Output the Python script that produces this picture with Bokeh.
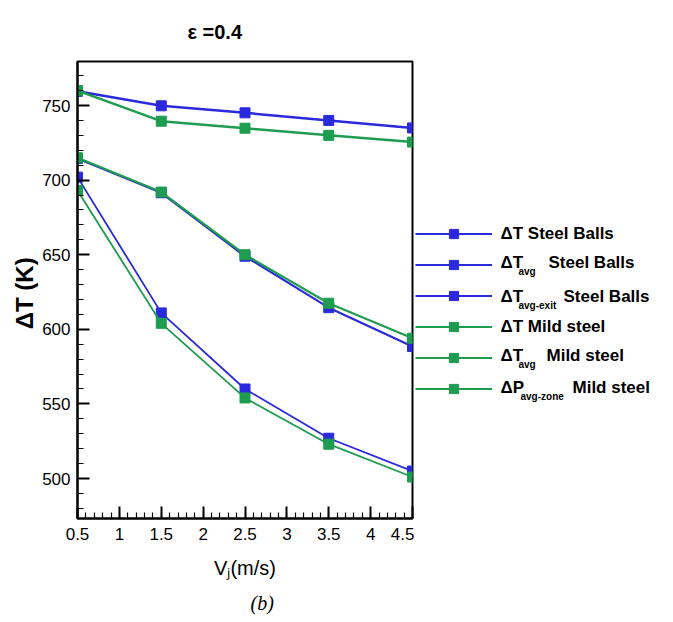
import math
from bokeh.plotting import figure
from bokeh.layouts import row
from bokeh.models import (FixedTicker, CustomJSTickFormatter, Label, Legend,
                          LegendItem, Title, Range1d)
from bokeh.embed import file_html
from bokeh.resources import INLINE

# ---------------- data ----------------
vj = [0.5, 1.5, 2.5, 3.5, 4.5]

dT_steel_balls = [759.5, 749.8, 745.1, 740.0, 735.0]
dTavg_steel_balls = [714.5, 691.5, 649.0, 614.5, 588.5]
dTavg_exit_steel_balls = [702.0, 611.0, 560.0, 527.0, 505.0]

dT_mild_steel = [760.0, 739.5, 734.8, 730.0, 725.5]
dTavg_mild_steel = [715.0, 692.0, 650.0, 617.5, 594.0]
dPavg_zone_mild_steel = [693.0, 604.0, 554.0, 523.0, 501.0]

x_ticks = [0.5, 1.0, 1.5, 2.0, 2.5, 3.0, 3.5, 4.0, 4.5]
y_ticks = [500, 550, 600, 650, 700, 750]

# legend entries: (main text, subscript, trailing text)
legend_main = ["ΔT Steel Balls", "ΔT", "ΔT", "ΔT Mild steel", "ΔT", "ΔP"]
legend_sub = ["", "avg", "avg-exit", "", "avg", "avg-zone"]
legend_tail = ["", "Steel Balls", "Steel Balls", "", "Mild steel", "Mild steel"]

BLUE = "#2a2adc"
GREEN = "#1e9c50"
FONT = "Liberation Sans"

# frame geometry in canvas pixels
FT, FB = 61, 518

# ---------------- main plot ----------------
W1 = 414
p = figure(width=W1, height=622, x_range=(0.5, 4.5), y_range=(473.2, 779.5),
           output_backend="svg", toolbar_location=None,
           min_border_left=77, min_border_right=2,
           min_border_top=FT, min_border_bottom=622 - FB)
p.xgrid.visible = False
p.ygrid.visible = False
p.outline_line_color = "black"
p.outline_line_width = 2
p.background_fill_color = "white"
p.border_fill_color = "white"

minor_x = [round(0.5 + 0.1 * i, 2) for i in range(41)]
minor_y = [480 + 10 * i for i in range(31)]
p.xaxis.ticker = FixedTicker(ticks=x_ticks, minor_ticks=minor_x)
p.yaxis.ticker = FixedTicker(ticks=y_ticks, minor_ticks=minor_y)
p.xaxis.formatter = CustomJSTickFormatter(code="return tick.toString();")

for ax in (p.xaxis[0], p.yaxis[0]):
    ax.axis_line_color = "black"
    ax.axis_line_width = 2
    ax.major_tick_in = 12
    ax.major_tick_out = 0
    ax.minor_tick_in = 6
    ax.minor_tick_out = 0
    ax.major_tick_line_width = 2
    ax.minor_tick_line_width = 1.2
    ax.major_label_text_font = FONT
    ax.major_label_text_font_size = "17px"
    ax.major_label_text_color = "black"
p.xaxis.major_label_standoff = 9
p.yaxis.major_label_standoff = 7

p.xaxis.axis_label = "Vⱼ(m/s)"
p.xaxis.axis_label_text_font = FONT
p.xaxis.axis_label_text_font_size = "20px"
p.xaxis.axis_label_text_font_style = "normal"
p.xaxis.axis_label_text_color = "black"
p.xaxis.axis_label_standoff = 14

p.yaxis.axis_label = "ΔT  (K)"
p.yaxis.axis_label_text_font = FONT
p.yaxis.axis_label_text_font_size = "24px"
p.yaxis.axis_label_text_font_style = "bold"
p.yaxis.axis_label_text_color = "black"
p.yaxis.axis_label_standoff = 1

p.add_layout(Title(text="ε =0.4", text_font=FONT, text_font_size="20px",
                   text_font_style="bold", text_color="black", align="left",
                   offset=110, standoff=37), "above")
p.add_layout(Title(text="(b)", text_font="Liberation Serif", text_font_size="20px",
                   text_font_style="italic", text_color="black", align="left",
                   offset=173, standoff=17), "below")

series = [
    (dT_steel_balls, BLUE, 2.5),
    (dTavg_steel_balls, BLUE, 2.2),
    (dTavg_exit_steel_balls, BLUE, 1.8),
    (dT_mild_steel, GREEN, 2.5),
    (dTavg_mild_steel, GREEN, 2.2),
    (dPavg_zone_mild_steel, GREEN, 1.8),
]
for ys, col, lw in series:
    p.line(vj, ys, line_color=col, line_width=lw)
    p.scatter(vj, ys, marker="square", size=10, fill_color=col, line_color=col)

# ---------------- legend panel (frame aligned with the main plot's frame) ----------------
W2 = 673 - W1
q = figure(width=W2, height=622, x_range=(0, W2), y_range=(FB, FT),
           output_backend="svg", toolbar_location=None,
           x_axis_location=None, y_axis_location=None,
           min_border_left=0, min_border_right=0,
           min_border_top=FT, min_border_bottom=622 - FB)
q.xgrid.visible = False
q.ygrid.visible = False
q.outline_line_color = None
q.background_fill_color = "white"
q.border_fill_color = "white"
# the legend's sample renderers carry the real series but sit on a range that
# keeps them out of this panel's view; only their legend swatches are shown
q.extra_x_ranges = {"off": Range1d(1000, 2000)}

items = []
for ys, col, lw in series:
    r1 = q.line(vj, ys, line_color=col, line_width=2.2, x_range_name="off")
    r2 = q.scatter(vj, ys, marker="square", size=10, fill_color=col,
                   line_color=col, x_range_name="off")
    items.append(LegendItem(label=" ", renderers=[r1, r2]))

row_h, row_gap = 23, 8
legend = Legend(items=items,
                location=(1, FB - (222 + 6 * row_h + 5 * row_gap)),
                glyph_width=77, glyph_height=row_h, label_height=row_h, label_width=1,
                label_text_font_size="1px", spacing=row_gap, padding=0, margin=0,
                label_standoff=0, border_line_color=None,
                background_fill_alpha=0)
q.add_layout(legend, "center")

row_y = [233, 262, 296, 326, 355, 387]
sub_dx = [0, 18, 18, 0, 18, 20]
tail_x = [0, 548, 563, 0, 546, 572]
for i in range(6):
    y0 = row_y[i]
    q.add_layout(Label(x=500 - W1, y=y0, text=legend_main[i], text_font=FONT,
                       text_font_size="17px", text_font_style="bold",
                       text_baseline="middle", text_color="black"))
    if legend_sub[i]:
        q.add_layout(Label(x=500 - W1 + sub_dx[i], y=y0 + 9, text=legend_sub[i],
                           text_font=FONT, text_font_size="10px",
                           text_font_style="bold", text_baseline="middle",
                           text_color="black"))
        q.add_layout(Label(x=tail_x[i] - W1, y=y0, text=legend_tail[i], text_font=FONT,
                           text_font_size="17px", text_font_style="bold",
                           text_baseline="middle", text_color="black"))

layout = row(p, q, spacing=0)
open("out.html", "w").write(file_html(layout, INLINE))
